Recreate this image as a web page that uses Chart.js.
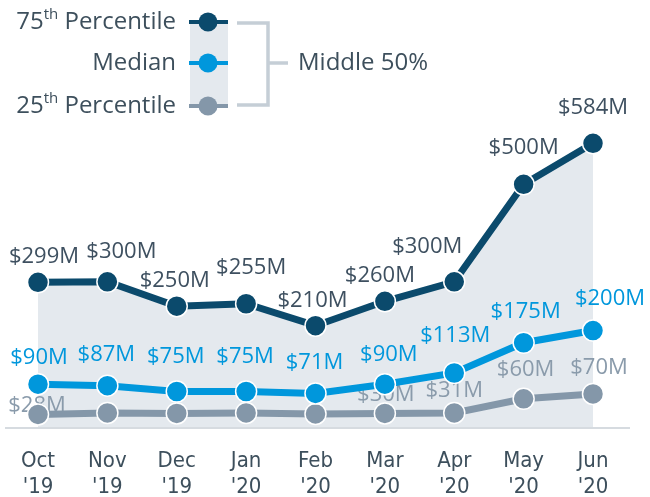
<!DOCTYPE html>
<html>
<head>
<meta charset="utf-8">
<script src="https://cdn.jsdelivr.net/npm/chart.js@4"></script>
<style>
  html, body { margin: 0; padding: 0; background: #fff; }
  #wrap { width: 650px; height: 497px; }
</style>
</head>
<body>
<div id="wrap"><canvas id="pctChart" width="650" height="497"></canvas></div>
<script>
// ---- data (values in $M) ----
const months = [['Oct', "'19"], ['Nov', "'19"], ['Dec', "'19"], ['Jan', "'20"], ['Feb', "'20"],
                ['Mar', "'20"], ['Apr', "'20"], ['May', "'20"], ['Jun', "'20"]];
const p75 = [299, 300, 250, 255, 210, 260, 300, 500, 584];
const median = [90, 87, 75, 75, 71, 90, 113, 175, 200];
const p25 = [28, 31, 30, 31, 29, 30, 31, 60, 70];
// which 25th percentile labels are printed on the original
const p25Shown = [true, false, false, false, false, true, true, true, true];

// hand placed label nudges (dx, dy from the point)
const nudge75 = [[6, -26], [14, -30], [-2, -25], [5, -36], [-3, -25], [-5, -26], [-27, -35], [0, -37], [0, -36]];
const nudgeMed = [[1, -26], [-1, -31], [-1, -35], [-1, -35], [-1, -31], [4, -29], [1, -37], [2, -31], [17, -32]];
const nudge25 = [[-1, -9], [0, 0], [0, 0], [0, 0], [0, 0], [1, -19], [0, -22], [2, -29], [6, -26]];

const C75 = '#0b4a6c';
const CMED = '#0097dc';
const C25 = '#8497a9';
const FILL = '#e4e9ee';
const TEXT = '#3d4f5c';
const FONT = '"Open Sans", "Noto Sans", sans-serif';

const money = v => '$' + v + 'M';

// baseline, legend and value labels
const decorations = {
  id: 'decorations',
  beforeDatasetsDraw(chart) {
    const ctx = chart.ctx;
    const y0 = chart.scales.y.getPixelForValue(0);
    ctx.save();
    ctx.strokeStyle = '#d6dbe0';
    ctx.lineWidth = 2;
    ctx.beginPath();
    ctx.moveTo(5, y0);
    ctx.lineTo(630, y0);
    ctx.stroke();

    ctx.font = '22px ' + FONT;
    ctx.textAlign = 'center';
    ctx.textBaseline = 'middle';
    const sets = [
      { idx: 0, vals: p75, nudge: nudge75, color: '#3e5060' },
      { idx: 1, vals: median, nudge: nudgeMed, color: CMED },
      { idx: 2, vals: p25, nudge: nudge25, color: '#8a9bab' }
    ];
    sets.forEach(s => {
      const meta = chart.getDatasetMeta(s.idx);
      ctx.fillStyle = s.color;
      meta.data.forEach((pt, i) => {
        if (s.idx === 2 && !p25Shown[i]) return;
        ctx.fillText(money(s.vals[i]), pt.x + s.nudge[i][0], pt.y + s.nudge[i][1]);
      });
    });
    ctx.restore();
  },
  afterDraw(chart) {
    const ctx = chart.ctx;
    const rows = [
      { y: 22, color: C75 },
      { y: 63, color: CMED },
      { y: 106, color: C25 }
    ];
    ctx.save();
    // shaded band behind the legend markers
    ctx.fillStyle = FILL;
    ctx.fillRect(190, 22, 38, 84);
    rows.forEach(r => {
      ctx.strokeStyle = r.color;
      ctx.lineWidth = 4;
      ctx.beginPath();
      ctx.moveTo(189, r.y);
      ctx.lineTo(228, r.y);
      ctx.stroke();
      ctx.fillStyle = r.color;
      ctx.beginPath();
      ctx.arc(208, r.y, 9.5, 0, Math.PI * 2);
      ctx.fill();
    });

    // bracket
    ctx.strokeStyle = '#c5ced6';
    ctx.lineWidth = 3.5;
    ctx.beginPath();
    ctx.moveTo(237, 23);
    ctx.lineTo(268, 23);
    ctx.lineTo(268, 105);
    ctx.lineTo(237, 105);
    ctx.moveTo(268, 63);
    ctx.lineTo(288, 63);
    ctx.stroke();

    // legend text
    ctx.fillStyle = TEXT;
    ctx.textBaseline = 'middle';
    const big = '24px ' + FONT;
    const small = '15px ' + FONT;
    const right = 176;
    [['75', 22], ['25', 106]].forEach(([num, y]) => {
      ctx.font = big;
      const wRest = ctx.measureText(' Percentile').width;
      const wNum = ctx.measureText(num).width;
      ctx.font = small;
      const wSup = ctx.measureText('th').width;
      let x = right - wRest - wSup - wNum;
      ctx.textAlign = 'left';
      ctx.font = big;
      ctx.fillText(num, x, y);
      x += wNum;
      ctx.font = small;
      ctx.fillText('th', x, y - 7);
      x += wSup;
      ctx.font = big;
      ctx.fillText(' Percentile', x, y);
    });
    ctx.font = big;
    ctx.textAlign = 'right';
    ctx.fillText('Median', right, 63);
    ctx.textAlign = 'left';
    ctx.fillText('Middle 50%', 298, 63);
    ctx.restore();
  }
};

const line = (label, data, color, fill) => ({
  label: label,
  data: data,
  borderColor: color,
  backgroundColor: fill ? FILL : color,
  fill: fill ? 'origin' : false,
  borderWidth: 7,
  tension: 0,
  pointRadius: 10.5,
  pointHoverRadius: 10.5,
  pointBackgroundColor: color,
  pointBorderColor: '#ffffff',
  pointBorderWidth: 1.5
});

const ctx = document.getElementById('pctChart').getContext('2d');
new Chart(ctx, {
  type: 'line',
  data: {
    labels: months,
    datasets: [
      line('75th Percentile', p75, C75, true),
      line('Median', median, CMED, false),
      line('25th Percentile', p25, C25, false)
    ]
  },
  options: {
    responsive: false,
    animation: false,
    layout: { padding: { left: 38, right: 57, top: 38, bottom: -23 } },
    plugins: {
      legend: { display: false },
      tooltip: { enabled: false },
      filler: { drawTime: 'beforeDatasetsDraw' }
    },
    scales: {
      y: { display: false, min: 0, max: 800 },
      x: {
        offset: false,
        grid: { display: false, drawTicks: false },
        border: { display: false },
        ticks: {
          padding: 20,
          color: TEXT,
          font: { family: '"Liberation Sans Narrow", "DejaVu Sans Condensed", sans-serif', size: 22, lineHeight: 1.18 },
          maxRotation: 0,
          autoSkip: false
        }
      }
    }
  },
  plugins: [decorations]
});
</script>
</body>
</html>
